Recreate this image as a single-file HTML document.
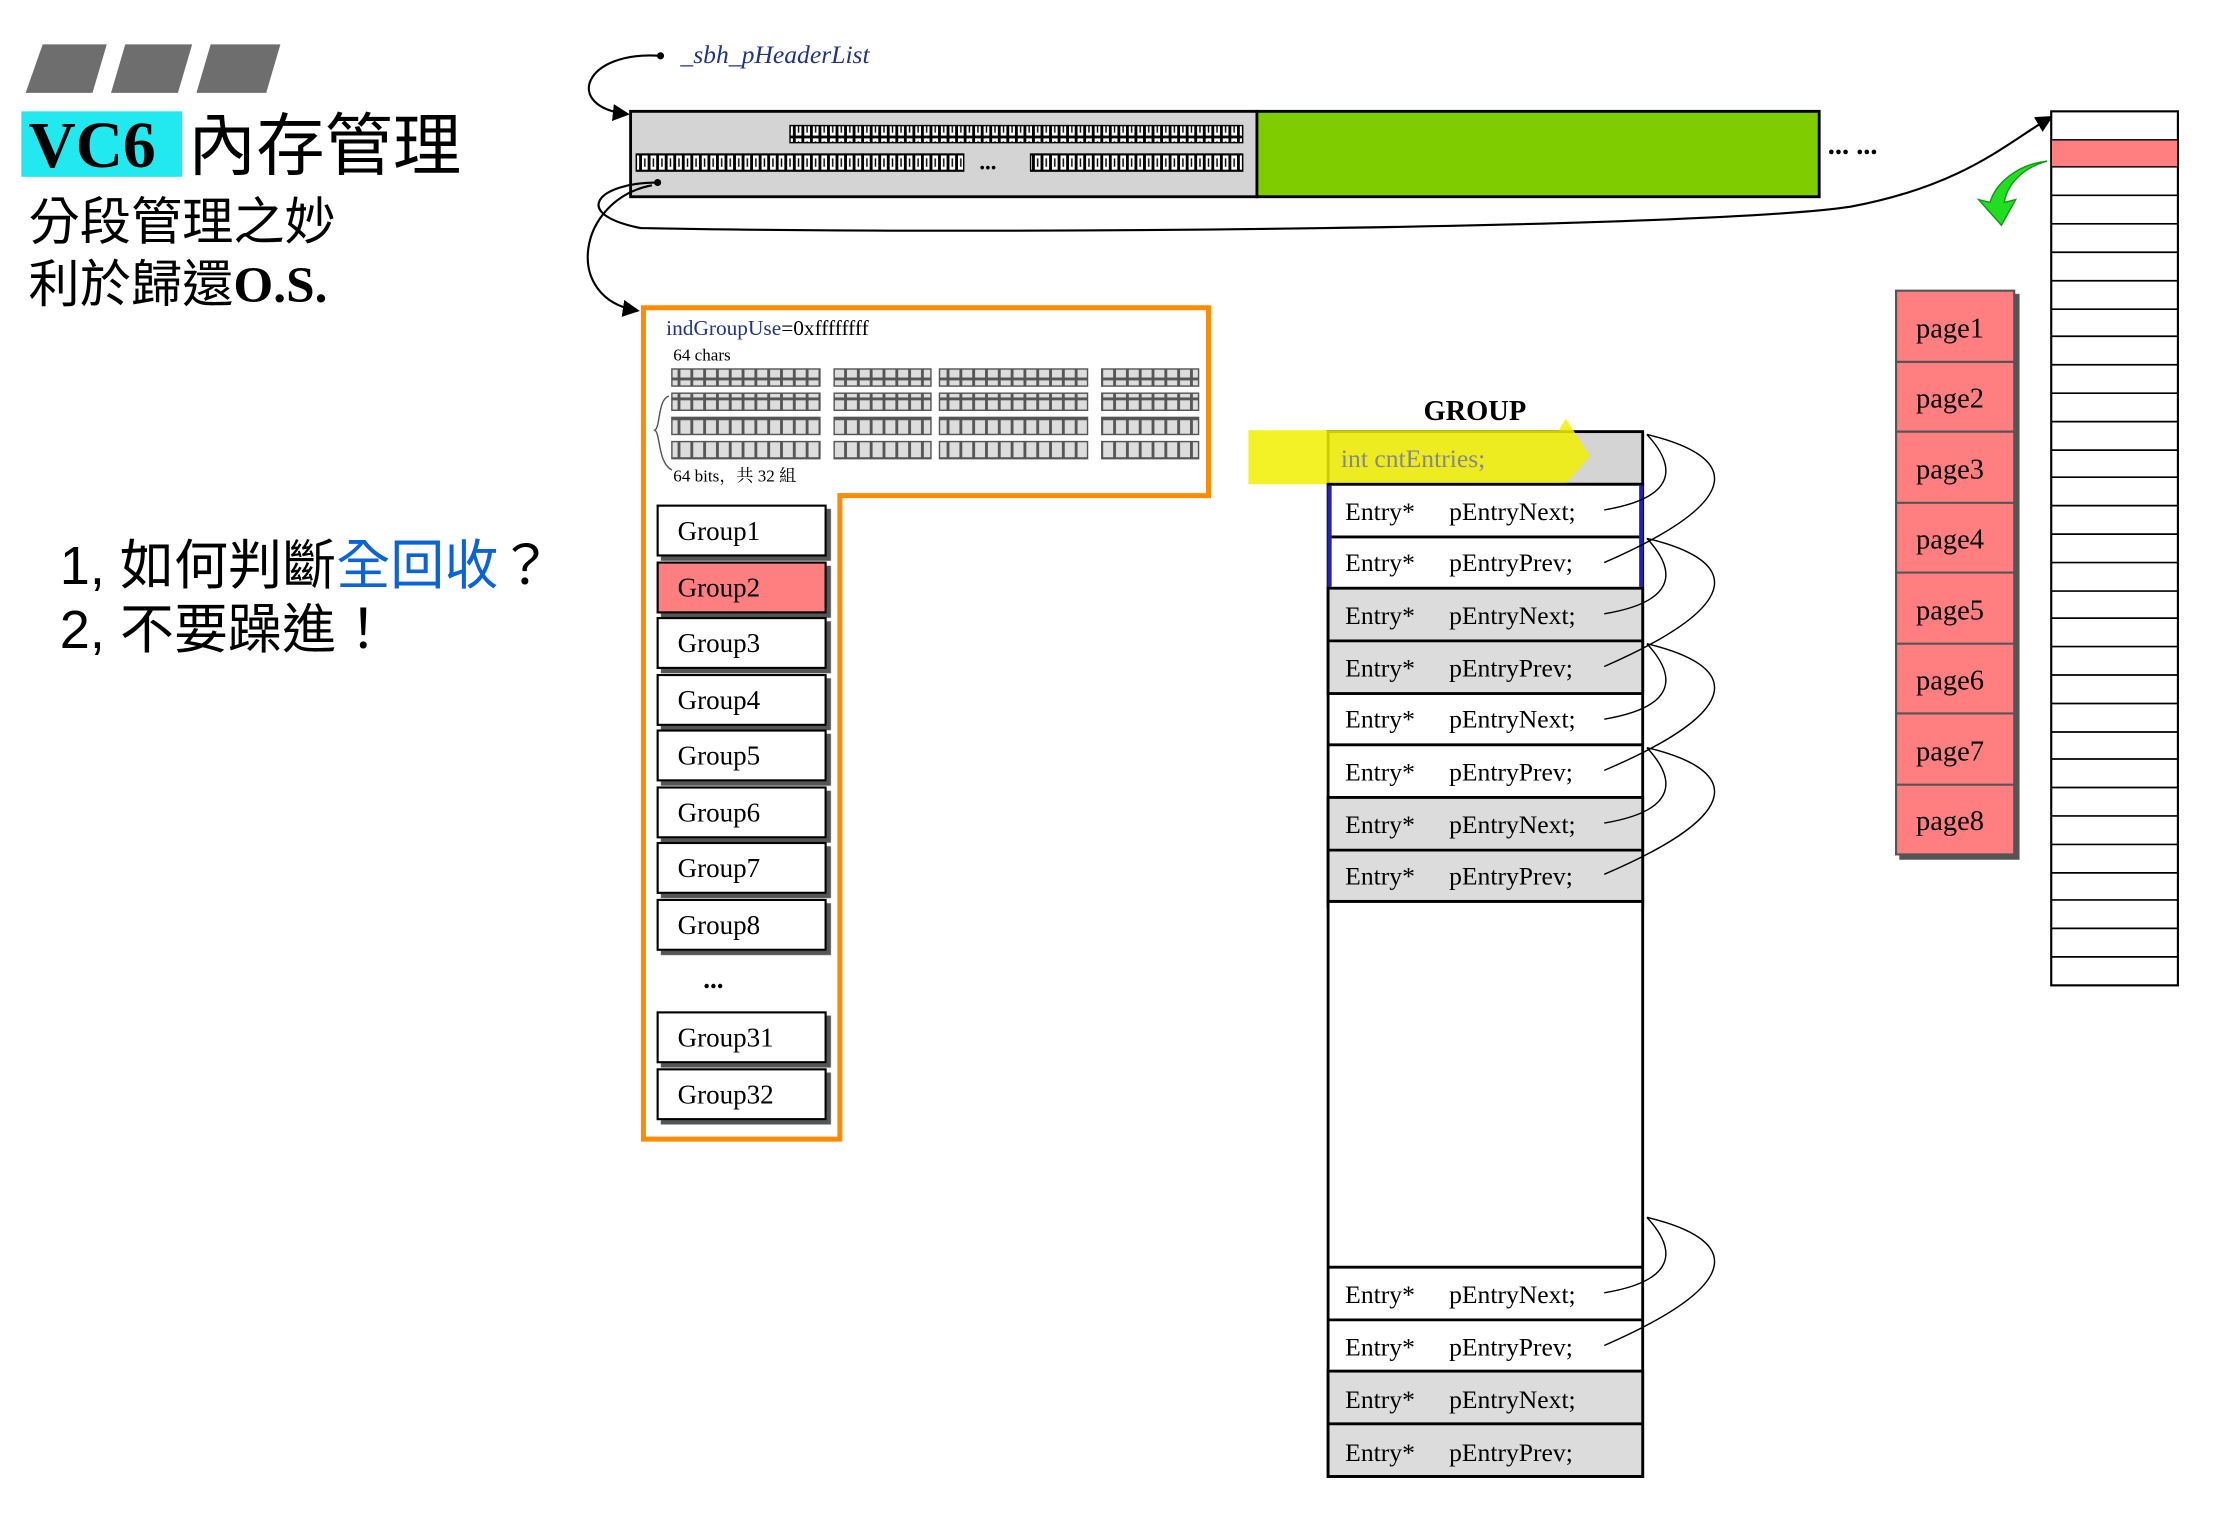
<!DOCTYPE html>
<html><head><meta charset="utf-8"><style>
html,body{margin:0;padding:0;background:#fff;}
svg{display:block;}
.s{font-family:"Liberation Serif","Noto Serif CJK SC",serif;}
.c{font-family:"Liberation Sans","Noto Sans CJK TC",sans-serif;}
</style></head><body>
<svg width="2232" height="1528" viewBox="0 0 1568 1073" xmlns="http://www.w3.org/2000/svg">
<defs>
<pattern id="bits" width="6" height="12" patternUnits="userSpaceOnUse"><rect x="0.5" y="0.5" width="5" height="11" fill="#fff" stroke="#000" stroke-width="1"/><rect x="2.5" y="3" width="1" height="6" fill="#000"/></pattern>
<pattern id="gb" width="9" height="14" patternUnits="userSpaceOnUse"><rect x="0.5" y="0.5" width="8" height="13" fill="#ddd" stroke="#555" stroke-width="1"/></pattern>
<marker id="ar" markerWidth="8" markerHeight="8" refX="7" refY="4" orient="auto"><path d="M0,0 L8,4 L0,8 z" fill="#000"/></marker>
<filter id="sh"><feDropShadow dx="3" dy="3" stdDeviation="0" flood-color="#555"/></filter>
</defs>
<rect width="1568" height="1073" fill="#fff"/>
<polygon points="30,31 75,31 65,65 18,65" fill="#6e6e6e"/>
<polygon points="88,31 135,31 125,65 78,65" fill="#6e6e6e"/>
<polygon points="148,31 197,31 187,65 138,65" fill="#6e6e6e"/>
<rect x="15" y="78" width="113" height="46" fill="#22e8f0"/>
<text x="20" y="117" class="s" font-size="46" font-weight="bold">VC6</text>
<text x="132" y="119" class="c" font-size="48">內存管理</text>
<text x="20" y="168" class="c" font-size="36">分段管理之妙</text>
<text x="20" y="212" class="c" font-size="36">利於歸還<tspan class="s" font-weight="bold">O.S.</tspan></text>
<text x="42" y="410" class="c" font-size="38">1, 如何判斷<tspan fill="#0a64d6">全回收</tspan>？</text>
<text x="42" y="455" class="c" font-size="38">2, 不要躁進！</text>

<text x="478" y="44" class="s" font-size="18" fill="#223388" font-style="italic">_sbh_pHeaderList</text>
<circle cx="464" cy="39" r="2.5" fill="#000"/>
<path d="M464,39 C410,35 395,75 441,80" fill="none" stroke="#000" stroke-width="1.5" marker-end="url(#ar)"/>
<rect x="443" y="78" width="440" height="60" fill="#d4d4d4" stroke="#000" stroke-width="2"/>
<rect x="883" y="78" width="395" height="60" fill="#7fcc00" stroke="#000" stroke-width="2"/>
<rect x="555" y="88" width="318" height="12" fill="url(#bits)" stroke="#000"/>
<rect x="447" y="108" width="230" height="12" fill="url(#bits)" stroke="#000"/>
<text x="688" y="119" font-size="16" font-weight="bold" class="s">...</text>
<rect x="724" y="108" width="149" height="12" fill="url(#bits)" stroke="#000"/>
<text x="1284" y="108" font-size="20" font-weight="bold" class="s">... ...</text>
<circle cx="462" cy="128" r="2.5" fill="#000"/>
<path d="M462,128 C420,128 400,150 450,160 C700,165 1200,160 1300,145 C1380,130 1410,100 1441,82" fill="none" stroke="#000" stroke-width="1.5" marker-end="url(#ar)"/>
<path d="M458,130 C405,140 395,210 448,218" fill="none" stroke="#000" stroke-width="1.5" marker-end="url(#ar)"/>

<rect x="1441" y="78" width="89" height="614" fill="#fff" stroke="#000" stroke-width="1.5"/>
<rect x="1441" y="98" width="89" height="19" fill="#ff7f80" stroke="#000"/>
<g stroke="#000" stroke-width="1.2">
<line x1="1441" x2="1530" y1="137" y2="137"/><line x1="1441" x2="1530" y1="157" y2="157"/><line x1="1441" x2="1530" y1="177" y2="177"/><line x1="1441" x2="1530" y1="197" y2="197"/><line x1="1441" x2="1530" y1="217" y2="217"/><line x1="1441" x2="1530" y1="236" y2="236"/><line x1="1441" x2="1530" y1="256" y2="256"/><line x1="1441" x2="1530" y1="276" y2="276"/><line x1="1441" x2="1530" y1="296" y2="296"/><line x1="1441" x2="1530" y1="316" y2="316"/><line x1="1441" x2="1530" y1="335" y2="335"/><line x1="1441" x2="1530" y1="355" y2="355"/><line x1="1441" x2="1530" y1="375" y2="375"/><line x1="1441" x2="1530" y1="395" y2="395"/><line x1="1441" x2="1530" y1="415" y2="415"/><line x1="1441" x2="1530" y1="434" y2="434"/><line x1="1441" x2="1530" y1="454" y2="454"/><line x1="1441" x2="1530" y1="474" y2="474"/><line x1="1441" x2="1530" y1="494" y2="494"/><line x1="1441" x2="1530" y1="514" y2="514"/><line x1="1441" x2="1530" y1="533" y2="533"/><line x1="1441" x2="1530" y1="553" y2="553"/><line x1="1441" x2="1530" y1="573" y2="573"/><line x1="1441" x2="1530" y1="593" y2="593"/><line x1="1441" x2="1530" y1="613" y2="613"/><line x1="1441" x2="1530" y1="632" y2="632"/><line x1="1441" x2="1530" y1="652" y2="652"/><line x1="1441" x2="1530" y1="672" y2="672"/>
</g>
<path d="M1438,113 C1420,118 1410,130 1408,142 L1416,140 L1406,158 L1390,140 L1398,142 C1402,128 1418,115 1438,113 z" fill="#22dd22" stroke="#119911" stroke-width="1"/>

<g class="s" font-size="20">
<rect x="1332" y="204" width="83" height="396" fill="#ff7f80" stroke="#555" stroke-width="1.5" filter="url(#sh)"/>
<g stroke="#555" stroke-width="1.5"><line x1="1332" x2="1415" y1="254" y2="254"/><line x1="1332" x2="1415" y1="303" y2="303"/><line x1="1332" x2="1415" y1="353" y2="353"/><line x1="1332" x2="1415" y1="402" y2="402"/><line x1="1332" x2="1415" y1="452" y2="452"/><line x1="1332" x2="1415" y1="501" y2="501"/><line x1="1332" x2="1415" y1="551" y2="551"/></g>
<text x="1346" y="237">page1</text><text x="1346" y="286">page2</text><text x="1346" y="336">page3</text><text x="1346" y="385">page4</text><text x="1346" y="435">page5</text><text x="1346" y="484">page6</text><text x="1346" y="534">page7</text><text x="1346" y="583">page8</text>
</g>

<path d="M452,216 L849,216 L849,348 L590,348 L590,800 L452,800 Z" fill="#fff" stroke="#ff8c00" stroke-width="3.5"/>
<text x="468" y="235" class="s" font-size="15" fill="#223388">indGroupUse<tspan fill="#000">=0xffffffff</tspan></text>
<text x="473" y="253" class="s" font-size="12">64 chars</text>
<g>
<rect x="472" y="259" width="104" height="12" fill="url(#gb)" stroke="#555"/><rect x="586" y="259" width="68" height="12" fill="url(#gb)" stroke="#555"/><rect x="660" y="259" width="104" height="12" fill="url(#gb)" stroke="#555"/><rect x="774" y="259" width="68" height="12" fill="url(#gb)" stroke="#555"/>
<rect x="472" y="276" width="104" height="12" fill="url(#gb)" stroke="#555"/><rect x="586" y="276" width="68" height="12" fill="url(#gb)" stroke="#555"/><rect x="660" y="276" width="104" height="12" fill="url(#gb)" stroke="#555"/><rect x="774" y="276" width="68" height="12" fill="url(#gb)" stroke="#555"/>
<rect x="472" y="293" width="104" height="12" fill="url(#gb)" stroke="#555"/><rect x="586" y="293" width="68" height="12" fill="url(#gb)" stroke="#555"/><rect x="660" y="293" width="104" height="12" fill="url(#gb)" stroke="#555"/><rect x="774" y="293" width="68" height="12" fill="url(#gb)" stroke="#555"/>
<rect x="472" y="310" width="104" height="12" fill="url(#gb)" stroke="#555"/><rect x="586" y="310" width="68" height="12" fill="url(#gb)" stroke="#555"/><rect x="660" y="310" width="104" height="12" fill="url(#gb)" stroke="#555"/><rect x="774" y="310" width="68" height="12" fill="url(#gb)" stroke="#555"/>
</g>
<path d="M470,278 C462,280 464,300 460,302 C464,304 462,325 472,330" fill="none" stroke="#555"/>
<text x="473" y="338" class="s" font-size="12">64 bits，共 32 組</text>

<g class="s" font-size="19">
<g stroke="#000" stroke-width="1.5" filter="url(#sh)">
<rect x="462" y="355" width="118" height="35" fill="#fff"/>
<rect x="462" y="395" width="118" height="35" fill="#ff7f80"/>
<rect x="462" y="434" width="118" height="35" fill="#fff"/>
<rect x="462" y="474" width="118" height="35" fill="#fff"/>
<rect x="462" y="513" width="118" height="35" fill="#fff"/>
<rect x="462" y="553" width="118" height="35" fill="#fff"/>
<rect x="462" y="592" width="118" height="35" fill="#fff"/>
<rect x="462" y="632" width="118" height="35" fill="#fff"/>
<rect x="462" y="711" width="118" height="35" fill="#fff"/>
<rect x="462" y="751" width="118" height="35" fill="#fff"/>
</g>
<text x="476" y="379">Group1</text><text x="476" y="419">Group2</text><text x="476" y="458">Group3</text><text x="476" y="498">Group4</text><text x="476" y="537">Group5</text><text x="476" y="577">Group6</text><text x="476" y="616">Group7</text><text x="476" y="656">Group8</text>
<text x="494" y="694" font-weight="bold">...</text>
<text x="476" y="735">Group31</text><text x="476" y="775">Group32</text>
</g>

<text x="1000" y="295" class="s" font-size="20" font-weight="bold">GROUP</text>
<rect x="933" y="303" width="221" height="37" fill="#d4d4d4" stroke="#000" stroke-width="2"/>
<path d="M877,302 L1095,302 L1100,294 L1117,320 L1100,340 L877,340 Z" fill="#f0f000" opacity="0.85"/>
<text x="942" y="328" class="s" font-size="18" fill="#888">int cntEntries;</text>
<rect x="933" y="340" width="221" height="297" fill="#fff" stroke="#000" stroke-width="2"/>
<rect x="933" y="633" width="221" height="404" fill="#fff" stroke="#000" stroke-width="2"/>
<g stroke="#000" stroke-width="2">
<rect x="933" y="413" width="221" height="74" fill="#dcdcdc"/>
<rect x="933" y="560" width="221" height="73" fill="#dcdcdc"/>
<line x1="933" x2="1154" y1="377" y2="377"/><line x1="933" x2="1154" y1="450" y2="450"/><line x1="933" x2="1154" y1="523" y2="523"/><line x1="933" x2="1154" y1="597" y2="597"/>
<line x1="933" x2="1154" y1="890" y2="890"/><line x1="933" x2="1154" y1="927" y2="927"/>
<rect x="933" y="963" width="221" height="74" fill="#dcdcdc"/>
<line x1="933" x2="1154" y1="1000" y2="1000"/>
</g>
<g stroke="#2222bb" stroke-width="3"><line x1="934" x2="934" y1="341" y2="412"/><line x1="1153" x2="1153" y1="341" y2="412"/></g>
<g class="s" font-size="18">
<text x="945" y="365">Entry*</text><text x="1018" y="365">pEntryNext;</text>
<text x="945" y="401">Entry*</text><text x="1018" y="401">pEntryPrev;</text>
<text x="945" y="438">Entry*</text><text x="1018" y="438">pEntryNext;</text>
<text x="945" y="475">Entry*</text><text x="1018" y="475">pEntryPrev;</text>
<text x="945" y="511">Entry*</text><text x="1018" y="511">pEntryNext;</text>
<text x="945" y="548">Entry*</text><text x="1018" y="548">pEntryPrev;</text>
<text x="945" y="585">Entry*</text><text x="1018" y="585">pEntryNext;</text>
<text x="945" y="621">Entry*</text><text x="1018" y="621">pEntryPrev;</text>
<text x="945" y="915">Entry*</text><text x="1018" y="915">pEntryNext;</text>
<text x="945" y="952">Entry*</text><text x="1018" y="952">pEntryPrev;</text>
<text x="945" y="989">Entry*</text><text x="1018" y="989">pEntryNext;</text>
<text x="945" y="1026">Entry*</text><text x="1018" y="1026">pEntryPrev;</text>
</g>
<g fill="none" stroke="#000" stroke-width="1">
<path d="M1127,358 C1175,350 1180,330 1157,305"/>
<path d="M1127,395 C1230,350 1220,320 1157,305"/>
<path d="M1127,431 C1175,423 1180,403 1157,378"/>
<path d="M1127,468 C1230,423 1220,393 1157,378"/>
<path d="M1127,505 C1175,497 1180,477 1157,452"/>
<path d="M1127,541 C1230,497 1220,467 1157,452"/>
<path d="M1127,578 C1175,570 1180,550 1157,525"/>
<path d="M1127,614 C1230,570 1220,540 1157,525"/>
<path d="M1127,908 C1175,900 1180,880 1157,855"/>
<path d="M1127,945 C1230,900 1220,870 1157,855"/>
</g>
</svg>
</body></html>
